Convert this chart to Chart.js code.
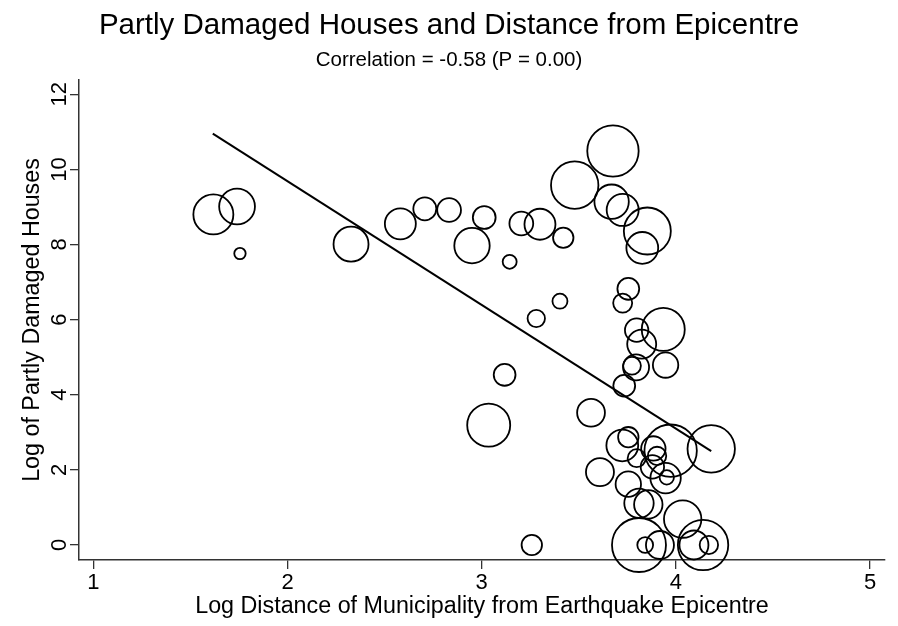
<!DOCTYPE html>
<html>
<head>
<meta charset="utf-8">
<script src="https://cdn.jsdelivr.net/npm/chart.js@4.4.1/dist/chart.umd.min.js"></script>
<style>
  html, body { margin: 0; padding: 0; background: #fff; }
</style>
</head>
<body>
<canvas id="chart" width="898" height="626"></canvas>
<script>
// log distance of municipality from epicentre (x)
const logDistance = [
  1.618, 1.740, 1.755, 2.327, 2.581, 2.707, 2.832, 2.950, 3.013, 3.036,
  3.118, 3.144, 3.204, 3.258, 3.281, 3.300, 3.403, 3.420, 3.479, 3.563,
  3.609, 3.669, 3.676, 3.724, 3.726, 3.726, 3.734, 3.755, 3.755, 3.755,
  3.774, 3.795, 3.798, 3.798, 3.810, 3.810, 3.824, 3.827, 3.842, 3.853,
  3.858, 3.879, 3.884, 3.903, 3.918, 3.935, 3.947, 3.947, 3.953, 3.973,
  4.035, 4.093, 4.140, 4.170, 4.182
];
// log of partly damaged houses (y)
const logDamaged = [
  8.80, 9.01, 7.76, 8.01, 8.55, 8.95, 8.92, 7.97, 8.72, 3.19,
  4.53, 7.54, 8.56, 0.00, 6.03, 8.54, 6.49, 8.18, 9.58, 3.52,
  1.94, 9.14, 10.49, 2.65, 8.92, 6.44, 4.24, 6.82, 2.87, 1.62,
  4.77, 4.73, 5.72, 2.31, 1.11, 0.00, 5.35, 7.91, 0.00, 8.36,
  1.08, 2.08, 2.57, 2.37, 0.00, 5.74, 4.79, 1.78, 1.80, 2.51,
  0.69, 0.00, 0.00, 0.00, 2.56
];
// bubble size (weight)
const bubbleSize = [
  20.8, 18.7, 6.5, 18.3, 16.3, 12.3, 12.7, 18.5, 12.2, 22.3,
  11.7, 7.8, 12.7, 11.0, 9.5, 16.3, 8.3, 11.0, 24.5, 14.7,
  14.8, 18.0, 26.5, 16.7, 16.8, 10.3, 11.7, 11.7, 11.0, 13.5,
  9.7, 13.8, 12.5, 9.8, 15.5, 27.8, 15.3, 16.7, 8.7, 24.3,
  15.0, 12.5, 13.0, 10.0, 14.8, 22.3, 13.5, 16.0, 8.0, 27.0,
  19.5, 15.3, 26.0, 10.0, 24.5
];
// fitted line
const fitX = [1.615, 4.182];
const fitY = [10.95, 2.50];

const xTicks = [1, 2, 3, 4, 5];
const yTicks = [0, 2, 4, 6, 8, 10, 12];

const FONT = 'Helvetica, Arial, "Liberation Sans", sans-serif';

const points = logDistance.map((x, i) => ({ x, y: logDamaged[i], r: bubbleSize[i] - 0.8 }));
const fitLine = fitX.map((x, i) => ({ x, y: fitY[i] }));

new Chart(document.getElementById('chart'), {
  type: 'bubble',
  data: {
    datasets: [
      {
        type: 'bubble',
        data: points,
        borderColor: '#000',
        borderWidth: 1.8,
        backgroundColor: 'rgba(0,0,0,0)',
        hoverRadius: 0,
        clip: false
      },
      {
        type: 'line',
        data: fitLine,
        borderColor: '#000',
        borderWidth: 2,
        pointRadius: 0,
        fill: false
      }
    ]
  },
  options: {
    responsive: false,
    animation: false,
    layout: { padding: 0, autoPadding: false },
    plugins: {
      legend: { display: false },
      tooltip: { enabled: false },
      title: {
        display: true,
        text: 'Partly Damaged Houses and Distance from Epicentre',
        color: '#000',
        font: { family: FONT, size: 29.5, weight: 'normal', lineHeight: 1 },
        padding: { top: 10.75, bottom: 4 }
      },
      subtitle: {
        display: true,
        text: 'Correlation = -0.58 (P = 0.00)',
        color: '#000',
        font: { family: FONT, size: 20.5, weight: 'normal', lineHeight: 1 },
        padding: { top: 5.8, bottom: 9.45 }
      }
    },
    scales: {
      x: {
        type: 'linear',
        min: 0.926,
        max: 5.077,
        afterBuildTicks: s => { s.ticks = xTicks.map(v => ({ value: v })); },
        afterFit: s => { s.height = 66; s.paddingLeft = 0; s.paddingRight = 13; },
        grid: { drawOnChartArea: false, tickLength: 9, color: '#333', lineWidth: 1.3 },
        border: { color: '#333', width: 1.5 },
        ticks: { color: '#000', font: { family: FONT, size: 22 }, padding: 0.3, maxRotation: 0 },
        title: {
          display: true,
          text: 'Log Distance of Municipality from Earthquake Epicentre',
          color: '#000',
          font: { family: FONT, size: 23.3 },
          padding: { top: 0, bottom: 5 }
        }
      },
      y: {
        type: 'linear',
        min: -0.4,
        max: 12.38,
        afterBuildTicks: s => { s.ticks = yTicks.map(v => ({ value: v })); },
        afterFit: s => { s.width = 79; s.paddingTop = 0; s.paddingBottom = 0; },
        grid: { drawOnChartArea: false, tickLength: 9, color: '#333', lineWidth: 1.3 },
        border: { color: '#333', width: 1.5 },
        ticks: {
          color: '#000',
          font: { family: FONT, size: 22 },
          minRotation: 90,
          maxRotation: 90,
          crossAlign: 'center',
          padding: -1.7
        },
        title: {
          display: true,
          text: 'Log of Partly Damaged Houses',
          color: '#000',
          font: { family: FONT, size: 23.3 },
          padding: { top: 19, bottom: 0 }
        }
      }
    }
  }
});
</script>
</body>
</html>
